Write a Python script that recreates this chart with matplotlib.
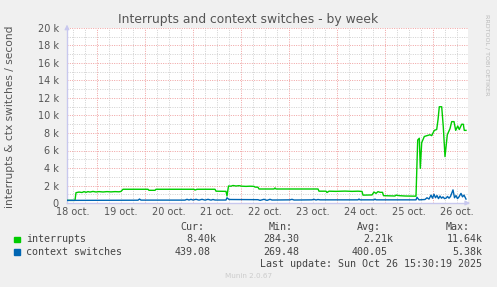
import matplotlib
matplotlib.use("Agg")
import matplotlib.pyplot as plt
from matplotlib.ticker import FixedLocator

# ---- data (time in hours since 18 Oct 00:00, values per second) ----
intr_t = [9.15, 13.15, 13.65, 15.15, 16.65, 17.65, 18.65, 19.65, 20.65, 22.15, 23.65,
          25.15, 27.15, 29.15, 31.15, 33.15, 35.15, 36.15, 37.15, 49.65, 50.15, 53.15,
          53.65, 72.65, 73.15, 74.15, 83.15, 83.65, 88.65, 89.15, 89.9, 91.15, 92.15,
          93.65, 95.15, 96.65, 98.65, 100.65, 102.65, 103.15, 104.65, 105.15, 112.65,
          113.15, 113.65, 134.65, 135.15, 138.65, 139.15, 140.15, 143.65, 148.15, 151.65,
          154.65, 156.65, 157.15, 161.65, 162.65, 163.65, 164.65, 165.65, 166.9, 167.4,
          173.15, 173.65, 175.15, 178.15, 183.65, 184.5, 185.3, 185.8, 186.5, 187.8,
          189.15, 190.65, 191.5, 192.8, 194.0, 194.65, 195.3, 196.5, 197.3, 198.15,
          199.3, 200.65, 201.5, 202.65, 203.5, 204.5, 205.3, 206.5, 207.3, 207.8, 208.65]
intr_v = [300, 300, 1180, 1250, 1200, 1300, 1220, 1300, 1250, 1320, 1260,
          1300, 1260, 1300, 1270, 1300, 1280, 1320, 1570, 1570, 1450, 1450,
          1570, 1570, 1480, 1570, 1570, 1350, 1330, 800, 1940, 1920, 2000,
          1940, 1980, 1920, 1900, 1920, 1900, 1820, 1800, 1600, 1600,
          1720, 1600, 1600, 1350, 1350, 1200, 1350, 1330, 1360, 1330,
          1350, 1320, 900, 920, 1250, 1100, 1300, 1220, 1220, 840,
          800, 900, 840, 800, 780, 7200, 7400, 3960, 6900, 7600,
          7700, 7800, 7700, 8300, 8400, 9500, 11000, 11000, 8700, 5300,
          7800, 8500, 9300, 9300, 8300, 8800, 8400, 9000, 9000, 8300, 8300]

ctx_t = [9.15, 44.65, 45.4, 46.15, 68.15, 69.15, 70.15, 71.15, 72.15, 73.65, 75.15,
         76.65, 78.15, 79.65, 81.15, 82.15, 83.15, 88.65, 89.15, 90.15, 104.65, 105.65,
         107.65, 109.15, 110.65, 111.65, 120.65, 121.65, 122.65, 131.65, 132.65, 133.65,
         134.65, 135.65, 154.65, 155.15, 155.65, 162.65, 163.15, 163.65, 183.65, 184.15,
         185.15, 188.15, 189.15, 190.15, 191.15, 191.9, 192.65, 193.4, 194.15, 194.9,
         195.65, 196.4, 197.15, 197.9, 198.65, 199.4, 200.15, 200.9, 201.65, 202.15,
         202.9, 203.65, 204.4, 205.15, 206.15, 206.9, 207.65, 208.65]
ctx_v = [300, 320, 450, 330, 330, 420, 340, 420, 340, 420, 330,
         420, 330, 420, 330, 400, 340, 340, 600, 400, 380, 300,
         420, 300, 420, 340, 360, 420, 340, 360, 420, 340,
         400, 360, 360, 450, 360, 360, 450, 360, 360, 650,
         360, 400, 600, 450, 900, 550, 1000, 600, 850, 500,
         800, 550, 700, 500, 550, 750, 550, 750, 1200, 1500,
         600, 850, 500, 700, 1100, 700, 900, 450]

y_ticks = [0, 2000, 4000, 6000, 8000, 10000, 12000, 14000, 16000, 18000, 20000]
y_labels = ["0", "2 k", "4 k", "6 k", "8 k", "10 k", "12 k", "14 k", "16 k", "18 k", "20 k"]
x_ticks = [12, 36, 60, 84, 108, 132, 156, 180, 204]
x_labels = ["18 oct.", "19 oct.", "20 oct.", "21 oct.", "22 oct.", "23 oct.",
            "24 oct.", "25 oct.", "26 oct."]

series_names = ["interrupts", "context switches"]
series_colors = ["#00cc00", "#0066b3"]
stat_cur = ["8.40k", "439.08"]
stat_min = ["284.30", "269.48"]
stat_avg = ["2.21k", "400.05"]
stat_max = ["11.64k", "5.38k"]

W, H = 497, 287
fig = plt.figure(figsize=(W / 100, H / 100), dpi=100)
fig.patch.set_facecolor("#f0f0f0")

def fx(px):
    return px / W

def fy(py):
    return 1 - py / H

L, R, T, B = 67, 468, 28, 203
ax = fig.add_axes([fx(L), fy(B), (R - L) / W, (B - T) / H])
ax.set_facecolor("white")
ax.set_xlim(9.15, 209.65)
ax.set_ylim(0, 20000)

# grid
minor_col = "#d0d0d0"
major_col = "#f0a0a0"
dot = (0, (1, 1.4))
ax.xaxis.set_major_locator(FixedLocator(x_ticks))
ax.set_xticklabels(x_labels)
ax.yaxis.set_major_locator(FixedLocator(y_ticks))
ax.set_yticklabels(y_labels)
for h in range(12, 210, 6):
    if h % 24 != 0:
        ax.axvline(h, color=minor_col, lw=0.7, ls=dot, zorder=0)
for h in range(24, 210, 24):
    ax.axvline(h, color=major_col, lw=0.7, ls=dot, zorder=0)
for v in range(1000, 20001, 1000):
    ax.axhline(v, color=major_col if v % 2000 == 0 else minor_col, lw=0.7, ls=dot, zorder=0)

ax.tick_params(axis="both", length=0, labelsize=7, colors="#555555")
ax.tick_params(axis="y", pad=6)
ax.tick_params(axis="x", pad=3)
for s in ["top", "right"]:
    ax.spines[s].set_visible(False)
for s in ["left", "bottom"]:
    ax.spines[s].set_color("#c8c8ee")
    ax.spines[s].set_linewidth(1.0)

# arrows at axis ends
ax.annotate("", xy=(0, 1.035), xytext=(0, 0.98), xycoords="axes fraction",
            arrowprops=dict(arrowstyle="-|>", color="#c8c8ee", lw=0.8, mutation_scale=7),
            annotation_clip=False)
ax.annotate("", xy=(1.012, 0), xytext=(0.99, 0), xycoords="axes fraction",
            arrowprops=dict(arrowstyle="-|>", color="#c8c8ee", lw=0.8, mutation_scale=7),
            annotation_clip=False)

ax.plot(intr_t, intr_v, color=series_colors[0], lw=1.0, zorder=3)
ax.plot(ctx_t, ctx_v, color=series_colors[1], lw=1.0, zorder=3)

# titles
fig.text(fx(248.5), fy(19), "Interrupts and context switches - by week",
         ha="center", va="center", fontsize=8.9, color="#555555")
fig.text(fx(10), fy(117), "interrupts & ctx switches / second", rotation=90,
         ha="center", va="center", fontsize=7.7, color="#555555")
fig.text(fx(487), fy(55), "RRDTOOL / TOBI OETIKER", rotation=270,
         ha="center", va="center", fontsize=4.6, color="#bbbbbb")

# legend
mono = "DejaVu Sans Mono"
fs = 7.2
tc = "#444444"
for hx, lab in [(204, "Cur:"), (293, "Min:"), (381, "Avg:"), (470, "Max:")]:
    fig.text(fx(hx), fy(227.5), lab, ha="right", va="center", family=mono, fontsize=fs, color=tc)
rows_y = [239.5, 252]
cur_x = [216.7, 210.7]
min_x = [299.3, 299.3]
avg_x = [393.3, 387.3]
max_x = [482.3, 482.3]
for i in range(2):
    yy = rows_y[i]
    fig.patches.append(plt.Rectangle((fx(14), fy(yy + 2.8)), 5.5 / W, 5.5 / H,
                                     transform=fig.transFigure, color=series_colors[i]))
    fig.text(fx(26.5), fy(yy), series_names[i], ha="left", va="center", family=mono,
             fontsize=fs, color=tc)
    fig.text(fx(cur_x[i]), fy(yy), stat_cur[i], ha="right", va="center", family=mono, fontsize=fs, color=tc)
    fig.text(fx(min_x[i]), fy(yy), stat_min[i], ha="right", va="center", family=mono, fontsize=fs, color=tc)
    fig.text(fx(avg_x[i]), fy(yy), stat_avg[i], ha="right", va="center", family=mono, fontsize=fs, color=tc)
    fig.text(fx(max_x[i]), fy(yy), stat_max[i], ha="right", va="center", family=mono, fontsize=fs, color=tc)

fig.text(fx(482.3), fy(264), "Last update: Sun Oct 26 15:30:19 2025", ha="right", va="center",
         family=mono, fontsize=fs, color=tc)
fig.text(fx(248.5), fy(276), "Munin 2.0.67", ha="center", va="center", fontsize=5.2,
         color="#cccccc")

fig.savefig("out.png", dpi=100, facecolor=fig.get_facecolor())
